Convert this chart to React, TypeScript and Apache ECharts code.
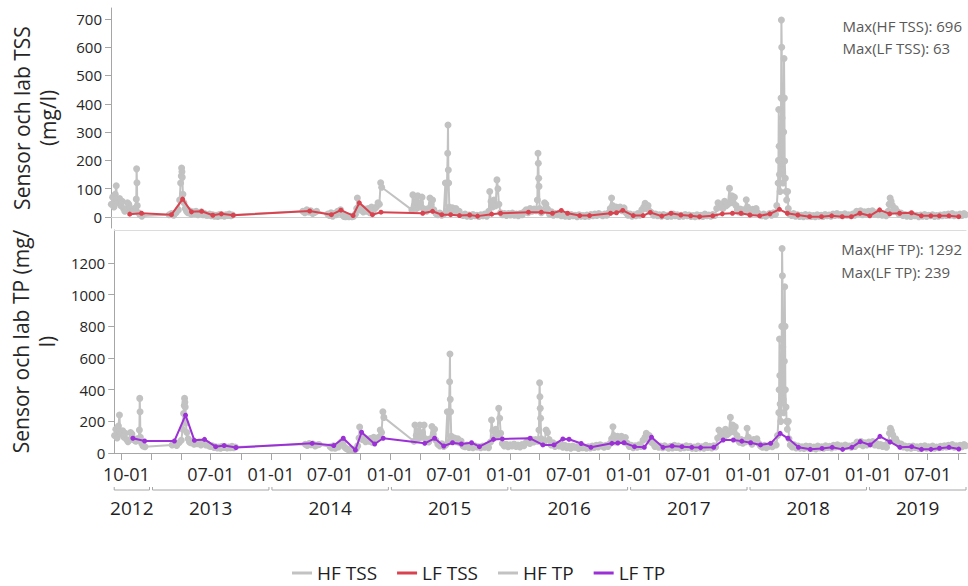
import { useEffect, useRef } from "react";
import * as echarts from "echarts";

// ---------- axis range and ticks ----------
const xStart = "2012-09-09";
const xEnd = "2019-10-26";
const quarterTicks = [
  "2012-10-01", "2013-01-01", "2013-04-01", "2013-07-01", "2013-10-01",
  "2014-01-01", "2014-04-01", "2014-07-01", "2014-10-01",
  "2015-01-01", "2015-04-01", "2015-07-01", "2015-10-01",
  "2016-01-01", "2016-04-01", "2016-07-01", "2016-10-01",
  "2017-01-01", "2017-04-01", "2017-07-01", "2017-10-01",
  "2018-01-01", "2018-04-01", "2018-07-01", "2018-10-01",
  "2019-01-01", "2019-04-01", "2019-07-01", "2019-10-01",
];
const monthLabels = [
  "2012-10-01", "2013-07-01", "2014-01-01", "2014-07-01", "2015-01-01",
  "2015-07-01", "2016-01-01", "2016-07-01", "2017-01-01", "2017-07-01",
  "2018-01-01", "2018-07-01", "2019-01-01", "2019-07-01",
];
const years = [2012, 2013, 2014, 2015, 2016, 2017, 2018, 2019];
const tssTicks = [0, 100, 200, 300, 400, 500, 600, 700];
const tpTicks = [0, 200, 400, 600, 800, 1000, 1200];

// ---------- high-frequency sensor readings (one line per month) ----------
const hfDates = [
  "2012-09-10","2012-09-14","2012-09-18","2012-09-22","2012-09-25","2012-09-27",
  "2012-10-01","2012-10-05","2012-10-09","2012-10-13","2012-10-17","2012-10-21","2012-10-25","2012-10-29",
  "2012-11-02","2012-11-06","2012-11-10","2012-11-14","2012-11-18","2012-11-22","2012-11-25","2012-11-26","2012-11-27","2012-11-28",
  "2012-12-02","2012-12-06","2012-12-12",
  "2013-03-05","2013-03-12","2013-03-19","2013-03-26",
  "2013-04-02","2013-04-06","2013-04-09","2013-04-11","2013-04-12","2013-04-13","2013-04-14","2013-04-16","2013-04-19","2013-04-23","2013-04-27",
  "2013-05-01","2013-05-06","2013-05-11","2013-05-16","2013-05-21","2013-05-26",
  "2013-06-01","2013-06-06","2013-06-11","2013-06-16","2013-06-21","2013-06-26",
  "2013-07-01","2013-07-06","2013-07-11","2013-07-16","2013-07-21","2013-07-26","2013-07-31",
  "2013-08-05","2013-08-10","2013-08-15","2013-08-20","2013-08-25","2013-08-30",
  "2013-09-04","2013-09-09","2013-09-14",
  "2014-04-16","2014-04-22","2014-04-28",
  "2014-05-04","2014-05-10","2014-05-16","2014-05-22","2014-05-28",
  "2014-07-01","2014-07-06","2014-07-11","2014-07-16","2014-07-21","2014-07-26","2014-07-31",
  "2014-08-05","2014-08-09","2014-08-14","2014-08-19","2014-08-24","2014-08-29",
  "2014-09-03","2014-09-08","2014-09-13","2014-09-18","2014-09-23","2014-09-27","2014-09-29",
  "2014-10-02","2014-10-07","2014-10-12","2014-10-17","2014-10-22","2014-10-27",
  "2014-11-01","2014-11-06","2014-11-11","2014-11-16","2014-11-21","2014-11-26",
  "2014-12-01","2014-12-05","2014-12-09","2014-12-12",
  "2015-03-14","2015-03-17","2015-03-21","2015-03-25","2015-03-28",
  "2015-04-01","2015-04-05","2015-04-09","2015-04-14","2015-04-18","2015-04-23","2015-04-28",
  "2015-05-03","2015-05-08","2015-05-12","2015-05-16","2015-05-20","2015-05-26",
  "2015-06-01","2015-06-07","2015-06-13","2015-06-19","2015-06-24","2015-06-27",
  "2015-07-01","2015-07-02","2015-07-03","2015-07-04","2015-07-06","2015-07-11","2015-07-16","2015-07-21","2015-07-26","2015-07-31",
  "2015-08-05","2015-08-11","2015-08-17","2015-08-23","2015-08-29",
  "2015-09-04","2015-09-10","2015-09-16","2015-09-22","2015-09-28",
  "2015-10-04","2015-10-10","2015-10-16","2015-10-22","2015-10-28",
  "2015-11-03","2015-11-06","2015-11-10","2015-11-15","2015-11-19","2015-11-24","2015-11-28",
  "2015-12-01","2015-12-04","2015-12-09","2015-12-15","2015-12-21","2015-12-27",
  "2016-01-02","2016-01-08","2016-01-14","2016-01-20","2016-01-26",
  "2016-02-01","2016-02-07","2016-02-13","2016-02-19","2016-02-25",
  "2016-03-02","2016-03-08","2016-03-14","2016-03-20","2016-03-26","2016-03-30",
  "2016-04-01","2016-04-02","2016-04-03","2016-04-04","2016-04-06","2016-04-11","2016-04-16","2016-04-21","2016-04-25","2016-04-30",
  "2016-05-06","2016-05-12","2016-05-18","2016-05-24","2016-05-30",
  "2016-06-05","2016-06-11","2016-06-17","2016-06-23","2016-06-29",
  "2016-07-05","2016-07-11","2016-07-17","2016-07-23","2016-07-29",
  "2016-08-04","2016-08-10","2016-08-16","2016-08-22","2016-08-28",
  "2016-09-03","2016-09-09","2016-09-15","2016-09-21","2016-09-27",
  "2016-10-03","2016-10-09","2016-10-15","2016-10-21","2016-10-27",
  "2016-11-02","2016-11-07","2016-11-11","2016-11-14","2016-11-19","2016-11-25",
  "2016-12-01","2016-12-07","2016-12-13","2016-12-19","2016-12-25","2016-12-31",
  "2017-01-06","2017-01-12","2017-01-18","2017-01-24","2017-01-30",
  "2017-02-05","2017-02-11","2017-02-17","2017-02-21","2017-02-25",
  "2017-03-02","2017-03-07","2017-03-13","2017-03-19","2017-03-25","2017-03-31",
  "2017-04-06","2017-04-12","2017-04-18","2017-04-24","2017-04-30",
  "2017-05-06","2017-05-12","2017-05-18","2017-05-24","2017-05-30",
  "2017-06-05","2017-06-11","2017-06-17","2017-06-23","2017-06-29",
  "2017-07-05","2017-07-11","2017-07-17","2017-07-23","2017-07-29",
  "2017-08-04","2017-08-10","2017-08-16","2017-08-22","2017-08-28",
  "2017-09-03","2017-09-09","2017-09-15","2017-09-21","2017-09-27",
  "2017-10-01","2017-10-06","2017-10-11","2017-10-16","2017-10-21","2017-10-26","2017-10-31",
  "2017-11-05","2017-11-08","2017-11-12","2017-11-16","2017-11-20","2017-11-25","2017-11-29",
  "2017-12-03","2017-12-08","2017-12-13","2017-12-18","2017-12-22","2017-12-26","2017-12-30",
  "2018-01-05","2018-01-10","2018-01-15","2018-01-20","2018-01-25","2018-01-30",
  "2018-02-05","2018-02-11","2018-02-17","2018-02-23",
  "2018-03-01","2018-03-07","2018-03-13","2018-03-19","2018-03-25","2018-03-29",
  "2018-04-02","2018-04-03","2018-04-04","2018-04-05","2018-04-06","2018-04-08","2018-04-10","2018-04-11","2018-04-12","2018-04-13","2018-04-14","2018-04-15","2018-04-17","2018-04-19","2018-04-20","2018-04-21","2018-04-22","2018-04-24","2018-04-26","2018-04-28",
  "2018-05-01","2018-05-03","2018-05-07","2018-05-13","2018-05-19","2018-05-25","2018-05-31",
  "2018-06-06","2018-06-12","2018-06-18","2018-06-24","2018-06-30",
  "2018-07-06","2018-07-12","2018-07-18","2018-07-24","2018-07-30",
  "2018-08-05","2018-08-11","2018-08-17","2018-08-23","2018-08-29",
  "2018-09-04","2018-09-10","2018-09-16","2018-09-22","2018-09-28",
  "2018-10-04","2018-10-10","2018-10-16","2018-10-22","2018-10-28",
  "2018-11-03","2018-11-09","2018-11-15","2018-11-21","2018-11-27",
  "2018-12-03","2018-12-09","2018-12-15","2018-12-21","2018-12-27",
  "2019-01-02","2019-01-08","2019-01-14","2019-01-20","2019-01-26",
  "2019-02-01","2019-02-07","2019-02-13","2019-02-19","2019-02-25",
  "2019-03-03","2019-03-06","2019-03-09","2019-03-12","2019-03-16","2019-03-20","2019-03-25","2019-03-30",
  "2019-04-05","2019-04-11","2019-04-17","2019-04-23","2019-04-29",
  "2019-05-05","2019-05-11","2019-05-17","2019-05-23","2019-05-29",
  "2019-06-04","2019-06-10","2019-06-16","2019-06-22","2019-06-28",
  "2019-07-04","2019-07-10","2019-07-16","2019-07-22","2019-07-28",
  "2019-08-03","2019-08-09","2019-08-15","2019-08-21","2019-08-27",
  "2019-09-02","2019-09-08","2019-09-14","2019-09-20","2019-09-26",
  "2019-10-02","2019-10-08","2019-10-14","2019-10-20","2019-10-25",
];
const hfTss = [
  45,70,35,80,110,60,
  50,65,40,55,30,20,25,50,
  45,30,25,22,30,25,63,170,121,40,
  15,8,3,
  8,12,6,15,
  25,60,120,145,173,160,140,80,50,30,20,
  15,22,10,18,12,20,
  8,14,18,8,12,6,
  6,10,4,8,3,6,2,
  9,4,7,3,8,5,
  10,4,7,
  20,15,25,
  18,22,12,16,20,
  10,5,15,3,12,8,20,
  18,25,8,2,1,3,
  1,2,1,3,10,30,67,
  35,25,32,18,28,20,
  30,15,35,22,30,35,
  50,45,121,105,
  25,78,40,55,30,
  75,35,50,70,30,25,20,
  30,67,45,60,25,12,
  8,14,6,10,120,20,
  225,325,166,120,35,25,32,18,30,15,
  20,8,5,10,3,
  7,2,9,4,6,
  2,8,4,10,3,
  20,90,55,35,60,40,131,
  100,45,15,8,12,5,
  12,7,14,6,10,
  4,12,8,18,25,
  15,30,20,28,22,60,
  225,190,137,108,30,15,22,50,45,28,
  10,18,6,12,8,
  14,4,10,3,7,
  2,9,4,6,1,
  8,3,5,2,7,
  3,9,4,10,5,
  12,8,4,10,6,
  15,30,67,40,20,35,
  28,35,22,32,15,6,
  10,3,8,4,12,
  6,25,35,48,30,
  40,20,15,6,10,4,
  8,3,9,5,2,
  7,3,10,4,8,
  2,6,3,9,4,
  7,2,5,1,8,
  3,6,2,10,4,
  7,3,9,5,30,
  50,35,45,30,55,40,45,
  101,50,75,50,70,40,25,
  18,28,15,25,20,61,35,
  20,12,27,22,30,15,
  8,4,10,3,
  7,12,6,15,10,40,
  120,200,380,250,150,90,200,420,696,600,350,166,120,300,560,420,198,137,90,60,
  90,30,10,5,12,3,8,
  2,6,1,9,3,
  7,2,5,1,8,
  3,6,2,9,4,
  7,3,10,5,12,
  6,9,4,11,6,
  8,4,10,6,20,
  12,22,8,18,10,
  20,14,22,10,15,
  8,12,6,10,4,
  20,45,67,55,40,25,30,20,
  10,14,5,9,3,
  7,2,8,4,6,
  1,7,3,9,2,
  6,4,8,2,5,
  3,7,4,9,5,
  10,6,12,4,8,
  6,10,5,12,8,
];
const hfTp = [
  110,150,95,170,240,140,
  120,140,100,125,85,72,80,130,
  120,90,80,75,90,80,145,345,261,100,
  60,45,40,
  50,60,48,65,
  80,150,250,300,345,320,290,190,130,90,70,
  65,75,55,65,58,70,
  50,60,66,50,56,44,
  42,45,35,40,32,38,30,
  42,35,40,32,38,34,
  42,33,38,
  55,48,60,
  52,56,45,50,54,
  40,32,45,30,42,38,60,
  73,65,38,28,22,25,
  20,24,22,26,45,95,164,
  100,85,95,72,88,75,
  92,68,100,78,92,100,
  145,130,261,225,
  74,177,110,140,95,
  177,100,130,177,90,80,70,
  90,167,120,150,80,55,
  45,58,42,50,261,70,
  450,625,339,261,105,85,95,72,90,65,
  75,45,40,50,35,
  42,33,45,38,40,
  33,44,36,48,34,
  70,208,140,100,150,110,282,
  220,125,60,45,55,40,
  52,44,56,42,50,
  38,54,46,65,78,
  60,85,70,85,75,145,
  444,356,282,220,90,62,72,145,130,85,
  50,64,42,54,45,
  56,36,48,34,42,
  30,44,36,40,28,
  42,33,38,30,40,
  32,44,35,48,38,
  52,45,36,48,42,
  60,90,166,110,70,105,
  88,105,75,98,62,42,
  48,34,45,36,52,
  42,80,100,124,90,
  110,70,62,42,48,36,
  44,33,45,38,30,
  42,32,48,35,44,
  30,40,33,45,35,
  42,30,38,28,44,
  32,40,30,48,35,
  42,32,45,38,95,
  145,105,130,95,150,115,125,
  225,135,177,135,165,110,80,
  68,85,62,80,72,156,100,
  70,55,85,75,90,62,
  45,36,48,34,
  42,52,40,60,50,110,
  255,400,720,490,310,200,400,800,1292,1120,670,340,255,580,1050,800,400,290,200,150,
  200,90,50,38,52,32,44,
  30,40,28,44,32,
  42,28,38,26,44,
  32,40,30,46,35,
  42,32,48,38,52,
  40,46,36,50,42,
  44,36,48,42,70,
  55,72,46,65,50,
  70,58,72,50,60,
  46,54,42,48,36,
  70,125,156,140,115,80,90,70,
  50,56,38,44,32,
  42,30,44,35,40,
  28,42,32,45,30,
  40,35,44,30,38,
  33,42,36,45,38,
  48,42,54,36,46,
  42,48,40,54,46,
];

// ---------- low-frequency lab samples ----------
const lfDates = [
  "2012-11-05","2012-12-11","2013-03-12","2013-04-15","2013-05-12","2013-06-12","2013-07-16","2013-08-11","2013-09-16",
  "2014-05-07","2014-07-12","2014-08-10","2014-09-16","2014-10-05","2014-11-14","2014-12-10",
  "2015-04-16","2015-05-16","2015-06-13","2015-07-10","2015-08-06","2015-09-06","2015-09-30","2015-11-12","2015-12-09",
  "2016-03-03","2016-04-11","2016-05-15","2016-06-11","2016-06-30","2016-08-06","2016-09-05","2016-11-08","2016-11-26","2016-12-15",
  "2017-01-16","2017-02-15","2017-03-09","2017-04-13","2017-05-11","2017-06-10","2017-07-10","2017-08-06","2017-09-15","2017-10-14","2017-11-14","2017-12-10",
  "2018-01-06","2018-02-05","2018-03-08","2018-04-06","2018-04-30","2018-06-01","2018-07-07","2018-08-12","2018-09-12","2018-10-14","2018-11-11","2018-12-07",
  "2019-01-06","2019-02-05","2019-03-08","2019-04-07","2019-05-13","2019-06-12","2019-07-11","2019-08-06","2019-09-04","2019-10-04",
];
const lfTss = [
  10,13,8,63,18,20,6,11,6,
  21,8,24,5,50,8,17,
  13,20,8,8,5,7,3,10,13,
  17,17,13,23,13,5,5,13,15,23,
  5,5,16,3,13,7,4,1,4,11,13,13,
  7,4,11,27,13,7,1,1,4,1,1,13,
  4,25,11,13,15,4,4,4,4,1,
];
const lfTp = [
  93,76,76,239,80,86,40,47,35,
  61,47,93,19,131,57,93,
  61,93,44,65,57,65,40,86,89,
  93,51,51,89,87,60,36,61,63,65,
  40,36,100,36,44,40,36,34,36,82,82,75,
  65,51,61,124,93,36,23,29,36,23,36,72,
  51,105,70,36,40,23,23,30,36,25,
];

const FONT = "'Open Sans', 'Noto Sans', sans-serif";
const TXT = "#262626";

const ts = (s: string) => {
  const [y, m, d] = s.split("-").map(Number);
  return new Date(y, m - 1, d).getTime();
};
const pad = (n: number) => (n < 10 ? "0" + n : "" + n);

export default function App() {
  const ref = useRef<HTMLDivElement>(null);

  useEffect(() => {
    if (!ref.current) return;
    const chart = echarts.init(ref.current, null, { renderer: "svg" });
    const xMin = ts(xStart);
    const xMax = ts(xEnd);
    const n = Math.min(hfDates.length, hfTss.length, hfTp.length);
    const hfT = hfDates.slice(0, n).map(ts);
    const lfT = lfDates.map(ts);
    const hfTssData = hfT.map((t, i) => [t, hfTss[i]]);
    const hfTpData = hfT.map((t, i) => [t, hfTp[i]]);
    const lfTssData = lfT.map((t, i) => [t, lfTss[i]]);
    const lfTpData = lfT.map((t, i) => [t, lfTp[i]]);
    const labelTs = monthLabels.map(ts);
    const tickTs = quarterTicks.map(ts);

    const maxHfTss = Math.max(...hfTss);
    const maxLfTss = Math.max(...lfTss);
    const maxHfTp = Math.max(...hfTp);
    const maxLfTp = Math.max(...lfTp);

    const yearData = years.map((y) => [
      Math.max(ts(`${y}-01-01`), xMin),
      Math.min(ts(`${y + 1}-01-01`), xMax),
      0,
    ]);

    const hfStyle = (name: string, data: any[], gi: number) => ({
      name,
      type: "line",
      xAxisIndex: gi === 0 ? 0 : 1,
      yAxisIndex: gi,
      data,
      symbol: "circle",
      symbolSize: 7,
      showSymbol: true,
      lineStyle: { color: "#c2c2c2", width: 2 },
      itemStyle: { color: "#c2c2c2" },
      z: 2,
      silent: true,
    });
    const lfStyle = (name: string, data: any[], gi: number, color: string) => ({
      name,
      type: "line",
      xAxisIndex: gi === 0 ? 0 : 1,
      yAxisIndex: gi,
      data,
      symbol: "circle",
      symbolSize: 5,
      showSymbol: true,
      lineStyle: { color, width: 2 },
      itemStyle: { color },
      z: 4,
      silent: true,
    });

    const yAxisBase = {
      type: "value",
      axisLine: { show: true, lineStyle: { color: "#a6a6a6" } },
      splitLine: { show: false },
      nameLocation: "middle",
      nameGap: 50,
      nameTextStyle: { fontSize: 21, lineHeight: 26, color: TXT, fontFamily: FONT },
    };
    const xPlain = {
      type: "value", min: xMin, max: xMax,
      axisTick: { show: false }, axisLabel: { show: false }, splitLine: { show: false },
    };
    const plainNum = (v: number) => String(v);

    chart.setOption({
      animation: false,
      textStyle: { fontFamily: FONT },
      grid: [
        { left: 111, right: 2, top: 8, height: 220 },
        { left: 111, right: 2, top: 230, height: 223 },
      ],
      xAxis: [
        {
          ...xPlain, gridIndex: 0, position: "top",
          axisLine: { show: true, lineStyle: { color: "#cfcfcf" } },
        },
        {
          gridIndex: 1, type: "value", min: xMin, max: xMax, position: "bottom",
          axisLine: { show: true, lineStyle: { color: "#a6a6a6" } },
          axisTick: { show: true, length: 7, customValues: tickTs, lineStyle: { color: "#a6a6a6" } },
          axisLabel: {
            customValues: labelTs,
            margin: 12,
            fontSize: 18,
            color: TXT,
            fontFamily: FONT,
            formatter: (v: number) => {
              const d = new Date(v);
              const s = pad(d.getMonth() + 1) + "-" + pad(d.getDate());
              return v === labelTs[0] ? `{first|${s}}` : s;
            },
            rich: { first: { padding: [0, 0, 0, 10], fontSize: 18, color: TXT, fontFamily: FONT } },
          },
          splitLine: { show: false },
        },
        {
          ...xPlain, gridIndex: 1, position: "top",
          axisLine: { show: true, lineStyle: { color: "#dcdcdc" } },
        },
      ],
      yAxis: [
        {
          ...yAxisBase,
          gridIndex: 0, min: -39, max: 738.5,
          axisTick: { show: true, length: 6, customValues: tssTicks, lineStyle: { color: "#a6a6a6" } },
          axisLabel: { customValues: tssTicks, formatter: plainNum, fontSize: 15, margin: 9, color: TXT, fontFamily: FONT },
          name: "Sensor och lab TSS\n(mg/l)",
        },
        {
          ...yAxisBase,
          gridIndex: 1, min: 0, max: 1409,
          axisTick: { show: true, length: 6, customValues: tpTicks, lineStyle: { color: "#a6a6a6" } },
          axisLabel: { customValues: tpTicks, formatter: plainNum, fontSize: 15, margin: 9, color: TXT, fontFamily: FONT },
          name: "Sensor och lab TP (mg/\nl)",
        },
      ],
      legend: {
        data: ["HF TSS", "LF TSS", "HF TP", "LF TP"],
        top: 563,
        left: 292,
        padding: 0,
        icon: "rect",
        itemWidth: 20,
        itemHeight: 3,
        itemGap: 20,
        textStyle: { fontSize: 19, lineHeight: 20, color: "#1f1f1f", fontFamily: FONT },
      },
      graphic: [
        {
          type: "text", right: 6, top: 15,
          style: {
            text: `Max(HF TSS): ${maxHfTss}\nMax(LF TSS): ${maxLfTss}`,
            align: "right", fill: "#595959", font: `15px ${FONT}`, lineHeight: 22,
          },
        },
        {
          type: "text", right: 6, top: 237,
          style: {
            text: `Max(HF TP): ${maxHfTp}\nMax(LF TP): ${maxLfTp}`,
            align: "right", fill: "#595959", font: `15px ${FONT}`, lineHeight: 23,
          },
        },
      ],
      series: [
        hfStyle("HF TSS", hfTssData, 0),
        lfStyle("LF TSS", lfTssData, 0, "#d8434f"),
        hfStyle("HF TP", hfTpData, 1),
        lfStyle("LF TP", lfTpData, 1, "#9b30d6"),
        {
          type: "custom",
          xAxisIndex: 1,
          yAxisIndex: 1,
          silent: true,
          clip: false,
          z: 10,
          data: yearData,
          encode: { x: [0, 1], y: 2 },
          renderItem: (params: any, api: any) => {
            const cs = params.coordSys;
            const idx = params.dataIndex;
            const x0 = api.coord([api.value(0), 0])[0];
            const x1 = api.coord([api.value(1), 0])[0];
            const a = idx === 0 ? x0 : x0 + 1;
            const b = idx === years.length - 1 ? x1 : x1 - 2;
            const base = cs.y + cs.height;
            const yb = base + 37;
            return {
              type: "group",
              children: [
                {
                  type: "polyline",
                  shape: { points: [[a, yb - 3], [a, yb], [b, yb], [b, yb - 3]] },
                  style: { stroke: "#a6a6a6", lineWidth: 1, fill: null },
                },
                {
                  type: "text",
                  x: (a + b) / 2,
                  y: base + 55,
                  style: {
                    text: String(years[idx]),
                    align: "center",
                    verticalAlign: "middle",
                    fill: "#1f1f1f",
                    font: `19px ${FONT}`,
                  },
                },
              ],
            };
          },
        },
      ],
    });
    return () => chart.dispose();
  }, []);

  return (
    <div
      ref={ref}
      style={{ position: "fixed", left: 0, top: 0, width: 968, height: 586, background: "#fff" }}
    />
  );
}
